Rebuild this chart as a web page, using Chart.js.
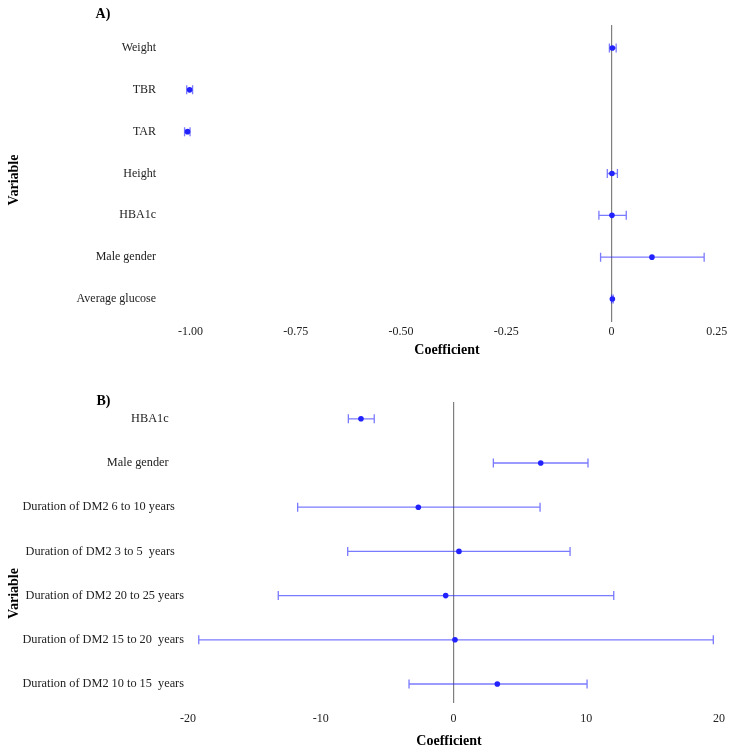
<!DOCTYPE html>
<html>
<head>
<meta charset="utf-8">
<script src="https://cdn.jsdelivr.net/npm/chart.js@4.4.0/dist/chart.umd.min.js"></script>
<style>
    body { margin: 0; background: #fff; }
    canvas { display: block; }
</style>
</head>
<body>
<canvas id="painelA" width="750" height="360"></canvas>
<canvas id="painelB" width="750" height="393"></canvas>
<script>
// Panel A
const labelsA = ["Weight", "TBR", "TAR", "Height", "HBA1c", "Male gender", "Average glucose"];
const coefA = [0.002, -1.002, -1.007, 0.001, 0.001, 0.096, 0.002];
const lowerA = [-0.005, -1.009, -1.014, -0.010, -0.030, -0.026, 0.000];
const upperA = [0.011, -0.995, -1.001, 0.014, 0.035, 0.220, 0.004];
const ticksA = [-1, -0.75, -0.5, -0.25, 0, 0.25];
const tickTextA = ["-1.00", "-0.75", "-0.50", "-0.25", "0", "0.25"];

// Panel B
const labelsB = [
    "HBA1c     ",
    "Male gender     ",
    "Duration of DM2 6 to 10 years   ",
    "Duration of DM2 3 to 5  years   ",
    "Duration of DM2 20 to 25 years",
    "Duration of DM2 15 to 20  years",
    "Duration of DM2 10 to 15  years"
];
const coefB = [-6.97, 6.57, -2.65, 0.41, -0.59, 0.11, 3.30];
const lowerB = [-7.92, 3.00, -11.74, -7.97, -13.20, -19.19, -3.35];
const upperB = [-5.97, 10.13, 6.52, 8.78, 12.07, 19.57, 10.06];
const ticksB = [-20, -10, 0, 10, 20];
const tickTextB = ["-20", "-10", "0", "10", "20"];

const fonte = '"Liberation Serif", "Times New Roman", serif';

function barrasErro(lower, upper, cap) {
    return {
        id: "barrasErro",
        beforeDatasetsDraw(chart) {
            const { ctx, scales: { x, y } } = chart;
            ctx.save();
            ctx.strokeStyle = "rgba(40,40,255,0.62)";
            ctx.lineWidth = 1.3;
            lower.forEach((lo, i) => {
                const x0 = x.getPixelForValue(lo);
                const x1 = x.getPixelForValue(upper[i]);
                const yy = y.getPixelForValue(i);
                ctx.beginPath();
                ctx.moveTo(x0, yy); ctx.lineTo(x1, yy);
                ctx.moveTo(x0, yy - cap); ctx.lineTo(x0, yy + cap);
                ctx.moveTo(x1, yy - cap); ctx.lineTo(x1, yy + cap);
                ctx.stroke();
            });
            ctx.restore();
        }
    };
}

function textosPainel(t) {
    return {
        id: "textosPainel",
        afterDraw(chart) {
            const ctx = chart.ctx;
            ctx.save();
            ctx.fillStyle = "#000";
            ctx.font = "bold 14px " + fonte;
            ctx.textAlign = "center";
            ctx.textBaseline = "middle";
            ctx.fillText(t.letra, t.letraX, t.letraY);
            ctx.fillText("Coefficient", t.coefX, t.coefY);
            ctx.translate(t.varX, t.varY);
            ctx.rotate(-Math.PI / 2);
            ctx.fillText("Variable", 0, 0);
            ctx.restore();
        }
    };
}

function grafico(id, labels, coef, lower, upper, ticks, tickText, c) {
    new Chart(document.getElementById(id), {
        type: "scatter",
        data: {
            datasets: [{
                data: coef.map((v, i) => ({ x: v, y: i })),
                backgroundColor: "#2222ff",
                borderWidth: 0,
                pointRadius: 2.8
            }]
        },
        options: {
            responsive: false,
            animation: false,
            events: [],
            layout: { padding: { top: c.top, right: c.right, left: 0, bottom: 0 } },
            plugins: {
                legend: { display: false },
                tooltip: { enabled: false }
            },
            scales: {
                x: {
                    type: "linear",
                    min: c.xmin,
                    max: c.xmax,
                    afterBuildTicks: s => { s.ticks = ticks.map(v => ({ value: v })); },
                    afterFit: s => { s.height = c.xHeight; },
                    grid: {
                        drawTicks: false,
                        lineWidth: 1.2,
                        color: ctx => ctx.tick && ctx.tick.value === 0 ? "#7f7f7f" : "rgba(0,0,0,0)"
                    },
                    border: { display: false },
                    ticks: {
                        autoSkip: false,
                        maxRotation: 0,
                        padding: c.xPad,
                        color: "#222",
                        font: { family: fonte, size: 12 },
                        callback: v => tickText[ticks.indexOf(v)]
                    }
                },
                y: {
                    type: "linear",
                    reverse: true,
                    min: c.ymin,
                    max: c.ymax,
                    afterBuildTicks: s => { s.ticks = labels.map((_, i) => ({ value: i })); },
                    afterFit: s => { s.width = c.yWidth; },
                    grid: { display: false, drawTicks: false },
                    border: { display: false },
                    ticks: {
                        autoSkip: false,
                        padding: c.yPad,
                        color: "#222",
                        font: { family: fonte, size: c.yFont },
                        callback: v => labels[v]
                    }
                }
            }
        },
        plugins: [barrasErro(lower, upper, 4.5), textosPainel(c.textos)]
    });
}

grafico("painelA", labelsA, coefA, lowerA, upperA, ticksA, tickTextA, {
    top: 25, right: 21, xHeight: 38, yWidth: 161,
    xmin: -1.070, xmax: 0.279, ymin: -0.55, ymax: 6.55,
    xPad: 3, yPad: 5, yFont: 12,
    textos: { letra: "A)", letraX: 103, letraY: 14, coefX: 447, coefY: 350, varX: 14, varY: 180 }
});

grafico("painelB", labelsB, coefB, lowerB, upperB, ticksB, tickTextB, {
    top: 42, right: 10, xHeight: 50, yWidth: 186,
    xmin: -20.15, xmax: 21.58, ymin: -0.38, ymax: 6.43,
    xPad: 9, yPad: 2, yFont: 12.3,
    textos: { letra: "B)", letraX: 103.5, letraY: 41, coefX: 449, coefY: 381, varX: 14, varY: 233.5 }
});
</script>
</body>
</html>
